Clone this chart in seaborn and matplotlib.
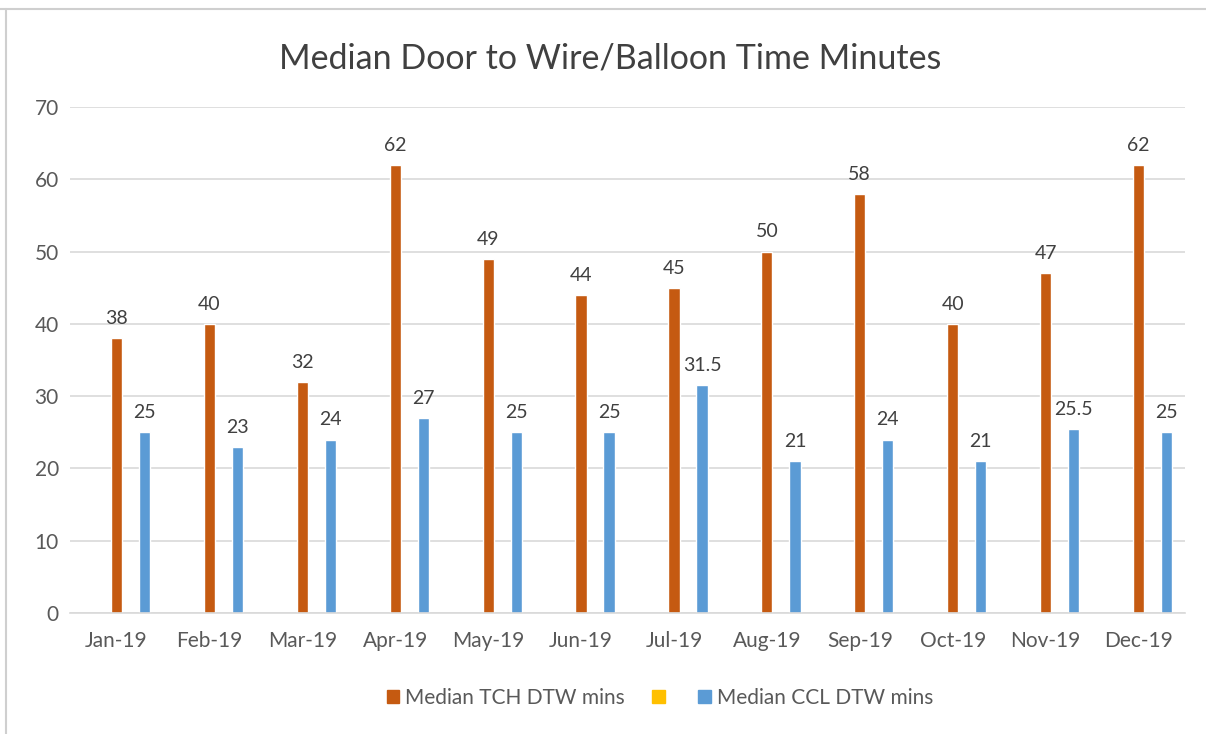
import pandas as pd
import matplotlib.pyplot as plt
from matplotlib.patches import Patch
from matplotlib.lines import Line2D
from matplotlib.ticker import FixedLocator
import seaborn as sns

months = ['Jan-19', 'Feb-19', 'Mar-19', 'Apr-19', 'May-19', 'Jun-19',
          'Jul-19', 'Aug-19', 'Sep-19', 'Oct-19', 'Nov-19', 'Dec-19']
tch = [38, 40, 32, 62, 49, 44, 45, 50, 58, 40, 47, 62]
ccl = [25, 23, 24, 27, 25, 25, 31.5, 21, 24, 21, 25.5, 25]

TCH = 'Median TCH DTW mins'
YEL = ' '
CCL = 'Median CCL DTW mins'

df = pd.concat([
    pd.DataFrame({'month': months, 'value': tch, 'series': TCH}),
    pd.DataFrame({'month': months, 'value': ccl, 'series': CCL}),
])

colors = {'pad1': 'white', 'pad2': 'white', TCH: '#C55A11', YEL: '#FFC000', CCL: '#5B9BD5'}

sns.set_theme(style='white')
plt.rcParams['font.family'] = ['Lato', 'DejaVu Sans']

fig = plt.figure(figsize=(12.06, 7.34), dpi=100)
ax = fig.add_axes([70 / 1206, 121 / 734, 1115 / 1206, 506 / 734])

# two empty slots in front so the orange bar sits on the category centre
sns.barplot(data=df, x='month', y='value', hue='series',
            hue_order=['pad1', 'pad2', TCH, YEL, CCL], order=months,
            palette=colors, width=0.754, gap=0.2, errorbar=None,
            legend=False, ax=ax, saturation=1)

for c in ax.containers:
    ax.bar_label(c, fmt='{:g}', padding=8, fontsize=14, color='#404040')

ax.set_xlim(-0.5, 11.5)
ax.set_ylim(0, 70)
ax.set_yticks(range(0, 71, 10))
ax.yaxis.grid(True, color='#D9D9D9', linewidth=1.2)
ax.set_axisbelow(True)
ax.set_xlabel('')
ax.set_ylabel('')
for s in ['top', 'right', 'left']:
    ax.spines[s].set_visible(False)
ax.spines['bottom'].set_color('#D9D9D9')
ax.spines['bottom'].set_linewidth(1.2)
ax.tick_params(axis='both', labelsize=15, labelcolor='#595959', length=0)
ax.tick_params(axis='x', pad=13)
ax.tick_params(axis='y', pad=8)
ax.xaxis.set_minor_locator(FixedLocator([i - 0.5 for i in range(13)]))
ax.tick_params(axis='x', which='minor', length=5, color='#D9D9D9', width=1.2)

ax.set_title('Median Door to Wire/Balloon Time Minutes', fontsize=24.5,
             color='#404040', pad=28, x=(610 - 70) / 1115)

handles = [Patch(color=colors[TCH]), Patch(color=colors[YEL]), Patch(color=colors[CCL])]
fig.legend(handles, [TCH, '', CCL], loc='center', bbox_to_anchor=(660 / 1206, 1 - 698 / 734),
           ncol=3, frameon=False, fontsize=15, labelcolor='#595959',
           handlelength=0.6, handleheight=0.6, handletextpad=0.3, columnspacing=1.3)

# outer chart frame
fig.add_artist(Line2D([0, 1], [1 - 9 / 734] * 2, color='#CFCFCF', linewidth=1.5))
fig.add_artist(Line2D([6 / 1206] * 2, [0, 1 - 9 / 734], color='#CFCFCF', linewidth=1.5))

fig.savefig('out.png', dpi=100, facecolor='white')
